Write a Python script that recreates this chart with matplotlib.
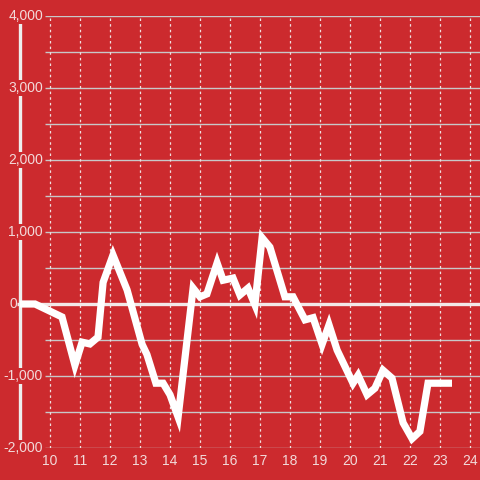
import matplotlib.pyplot as plt

# hour of day vs value
hours = [9.0, 9.5, 10.4, 10.83, 11.07, 11.33, 11.6, 11.77, 12.1, 12.57, 13.07,
         13.23, 13.53, 13.77, 14.0, 14.27, 14.77, 15.0, 15.23, 15.57, 15.77,
         16.1, 16.33, 16.6, 16.83, 17.07, 17.33, 17.83, 18.1, 18.5, 18.77,
         19.07, 19.3, 19.57, 20.1, 20.27, 20.57, 20.83, 21.1, 21.4, 21.77,
         22.07, 22.33, 22.6, 23.4]
values = [0, 0, -180, -850, -530, -555, -460, 300, 680, 195, -560,
          -700, -1100, -1100, -1260, -1570, 220, 100, 140, 570, 330,
          360, 125, 220, -10, 920, 790, 100, 100, -220, -190,
          -560, -290, -640, -1100, -990, -1260, -1170, -920, -1030, -1650,
          -1870, -1770, -1100, -1100]

x_ticks = list(range(10, 25))
y_ticks = [-2000, -1000, 0, 1000, 2000, 3000, 4000]
y_grid = [-2000, -1500, -1000, -500, 500, 1000, 1500, 2000, 2500, 3000, 3500, 4000]

bg = '#cc2a2e'
txt = '#f2dada'

plt.rcParams['font.family'] = ['Liberation Sans', 'DejaVu Sans']
fig = plt.figure(figsize=(4.8, 4.8), dpi=100, facecolor=bg)
ax = fig.add_axes([20 / 480, 1 - 448 / 480, 460 / 480, 432 / 480])
ax.set_facecolor(bg)
ax.set_xlim(9.0, 9.0 + 460 / 30)
ax.set_ylim(-2000, 4000)

# grid
ax.hlines(y_grid, 9.0 + 25 / 30, 9.0 + 460 / 30, colors='#c8c8c8', linewidth=1, zorder=1)
for xt in x_ticks:
    ax.axvline(xt, color='#f0e0e0', linestyle=(0, (2, 2.5)), linewidth=0.9, zorder=1)
ax.plot([9.0 - 3 / 30, 9.0 + 460 / 30], [0, 0], color='#f2e8e8', linewidth=2.4,
        solid_capstyle='butt', clip_on=False, zorder=2)

ax.plot(hours, values, color='white', linewidth=5.2, solid_joinstyle='miter',
        solid_capstyle='butt', clip_on=False, zorder=4)

for s in ['top', 'right', 'bottom']:
    ax.spines[s].set_visible(False)
ax.spines['left'].set_color('#eeeeee')
ax.spines['left'].set_linewidth(2.4)

ax.set_yticks([])
ax.set_xticks(x_ticks)
ax.set_xticklabels([str(t) for t in x_ticks], color=txt, fontsize=10)
ax.tick_params(axis='x', length=0, pad=4)

for yt in y_ticks:
    if yt == 0:
        ax.text(9.0 - 3 / 30, yt, '0', ha='right', va='center', color=txt,
                fontsize=10, zorder=5)
        continue
    ax.text(9.0 + 23 / 30, yt, f'{yt:,}', ha='right', va='center',
            color=txt, fontsize=10, zorder=5,
            bbox=dict(facecolor=bg, edgecolor='none', pad=0.6))

fig.savefig('out.png', dpi=100, facecolor=bg)
